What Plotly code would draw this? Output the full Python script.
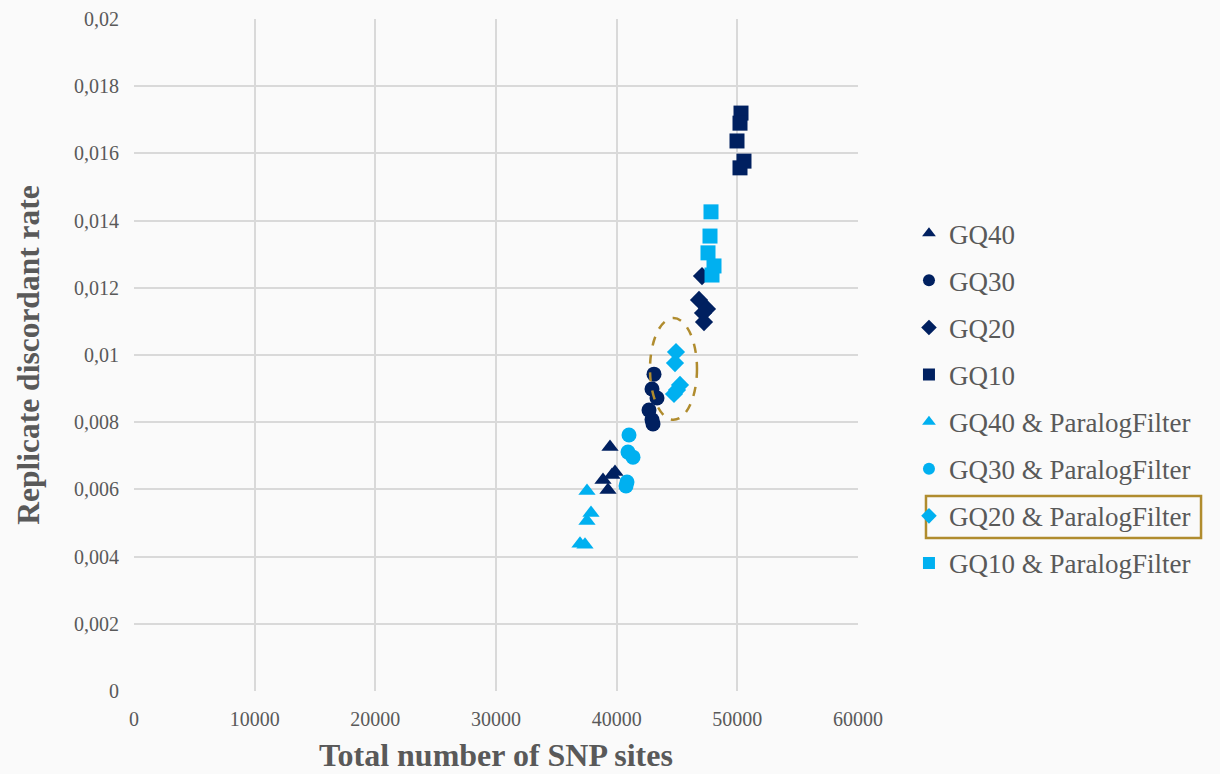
import plotly.graph_objects as go

# ---- data ----
gq40_x = [39448, 38867, 39862, 39282, 39613]
gq40_y = [0.00726, 0.00628, 0.00652, 0.00598, 0.00643]

gq30_x = [43094, 42928, 43343, 42680, 42928, 43011]
gq30_y = [0.00943, 0.00899, 0.00872, 0.00836, 0.00807, 0.00795]

gq20_x = [47072, 46823, 47486, 47155, 47238]
gq20_y = [0.01235, 0.01164, 0.01137, 0.01125, 0.01098]

gq10_x = [50304, 50221, 49972, 50552, 50221]
gq10_y = [0.0172, 0.0169, 0.01637, 0.01577, 0.01557]

gq40p_x = [37541, 37873, 37541, 36961, 37376]
gq40p_y = [0.00595, 0.0053, 0.00506, 0.00438, 0.00435]

gq30p_x = [41022, 40939, 41354, 40856, 40773]
gq30p_y = [0.00762, 0.00711, 0.00696, 0.00622, 0.0061]

gq20p_x = [44917, 44834, 45249, 44751, 45000]
gq20p_y = [0.01009, 0.00976, 0.00911, 0.00884, 0.00896]

gq10p_x = [47818, 47735, 47569, 48066, 47901]
gq10p_y = [0.01426, 0.01354, 0.01304, 0.01265, 0.01238]

series_names = ["GQ40", "GQ30", "GQ20", "GQ10",
                "GQ40 & ParalogFilter", "GQ30 & ParalogFilter",
                "GQ20 & ParalogFilter", "GQ10 & ParalogFilter"]

x_tickvals = [0, 10000, 20000, 30000, 40000, 50000, 60000]
x_ticktext = ["0", "10000", "20000", "30000", "40000", "50000", "60000"]
y_tickvals = [0, 0.002, 0.004, 0.006, 0.008, 0.01, 0.012, 0.014, 0.016, 0.018, 0.02]
y_ticktext = ["0", "0,002", "0,004", "0,006", "0,008", "0,01", "0,012",
              "0,014", "0,016", "0,018", "0,02"]

# highlighted ellipse around GQ20 & ParalogFilter cluster (data coords)
ellipse_x = [42762, 46657]
ellipse_y = [0.00807, 0.0111]

DARK = "#002060"
LIGHT = "#00B0F0"
GOLD = "#B08C2E"
FONT = "Liberation Serif"
GRAY = "#595959"

xs = [gq40_x, gq30_x, gq20_x, gq10_x, gq40p_x, gq30p_x, gq20p_x, gq10p_x]
ys = [gq40_y, gq30_y, gq20_y, gq10_y, gq40p_y, gq30p_y, gq20p_y, gq10p_y]
symbols = ["triangle-up", "circle", "diamond", "square"] * 2
colors = [DARK] * 4 + [LIGHT] * 4
sizes = [15, 15, 14, 15, 15, 15, 14, 15]

fig = go.Figure()
for i, name in enumerate(series_names):
    fig.add_trace(go.Scatter(
        x=xs[i], y=ys[i], mode="markers", name=name, legendgroup=name,
        marker=dict(symbol=symbols[i], color=colors[i], size=sizes[i],
                    line=dict(width=0)),
    ))

fig.add_shape(type="circle", xref="x", yref="y",
              x0=ellipse_x[0], x1=ellipse_x[1], y0=ellipse_y[0], y1=ellipse_y[1],
              line=dict(color=GOLD, width=2.5, dash="dash"))

# box around the highlighted legend entry
fig.add_shape(type="rect", xref="paper", yref="paper",
              x0=1.0939, x1=1.4738, y0=0.2277, y1=0.2902,
              line=dict(color=GOLD, width=2.5))

fig.update_layout(
    width=1220, height=774,
    margin=dict(l=134, r=362, t=19, b=83),
    paper_bgcolor="#FAFAFA", plot_bgcolor="#FAFAFA",
    font=dict(family=FONT, color=GRAY, size=20),
    showlegend=True,
    legend=dict(x=1.0704, y=0.717, xanchor="left", yanchor="top",
                font=dict(family=FONT, size=27, color=GRAY),
                tracegroupgap=9, itemsizing="constant", itemwidth=30,
                bgcolor="rgba(0,0,0,0)"),
    xaxis=dict(range=[0, 60000], tickvals=x_tickvals, ticktext=x_ticktext,
               showgrid=True, gridcolor="#D9D9D9", gridwidth=1.5,
               zeroline=False, showline=False, ticks="", automargin=False,
               ticklabelstandoff=14,
               tickfont=dict(family=FONT, size=20, color=GRAY),
               title=dict(text="<b>Total number of SNP sites</b>",
                          font=dict(family=FONT, size=32, color=GRAY),
                          standoff=14)),
    yaxis=dict(range=[0, 0.02], tickvals=y_tickvals, ticktext=y_ticktext,
               showgrid=True, gridcolor="#D9D9D9", gridwidth=1.5,
               zeroline=False, showline=False, ticks="", automargin=False,
               ticklabelstandoff=14,
               tickfont=dict(family=FONT, size=20, color=GRAY),
               title=dict(text="<b>Replicate discordant rate</b>",
                          font=dict(family=FONT, size=31.5, color=GRAY),
                          standoff=24)),
)

fig.write_html("out.html", config={"displayModeBar": False},
               post_script="document.body.style.margin='0';document.body.style.overflow='hidden';")
